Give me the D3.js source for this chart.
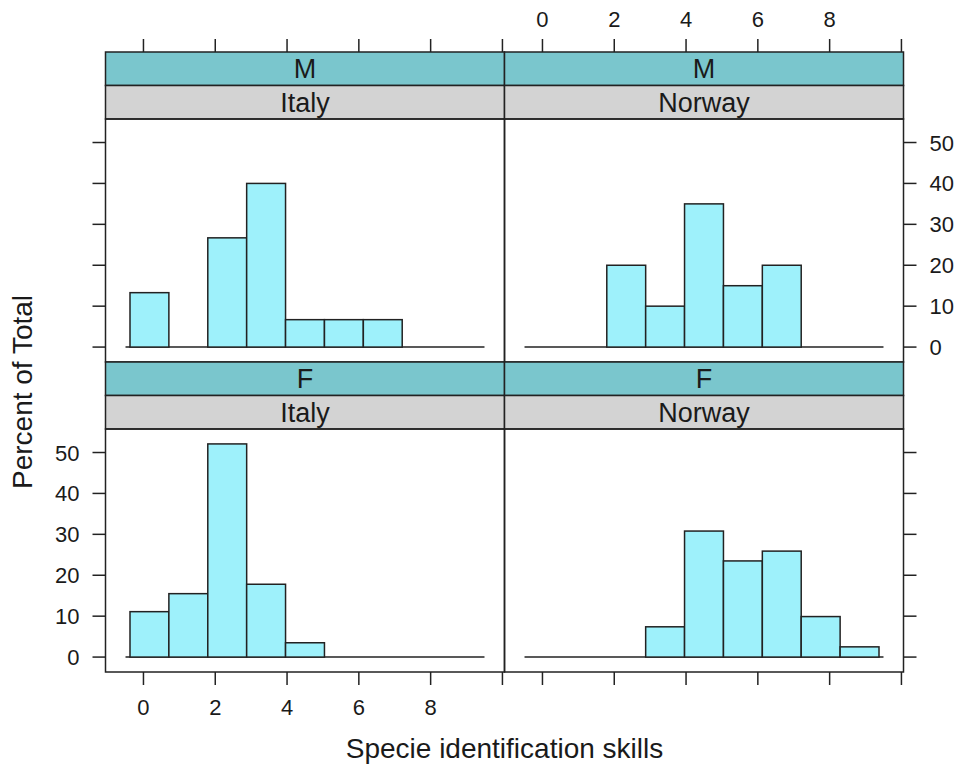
<!doctype html>
<html>
<head>
  <meta charset="utf-8">
  <title>Specie identification skills</title>
  <style>
    body { margin: 0; background: #fff; }
    svg text { font-family: "Liberation Sans", Arial, sans-serif; fill: #1a1a1a; }
  </style>
</head>
<body>
  <script src="https://d3js.org/d3.v7.min.js"></script>
  <script>
    // histogram bin edges (shared by all panels)
    var breaks = [-0.375, 0.708, 1.792, 2.875, 3.958, 5.042, 6.125, 7.208, 8.292, 9.375];
    var baseRange = [-0.5, 9.5];

    // percent of total per bin
    var pctMItaly = [13.3, 0, 26.7, 40, 6.7, 6.7, 6.7, 0, 0];
    var pctMNorway = [0, 0, 20, 10, 35, 15, 20, 0, 0];
    var pctFItaly = [11.1, 15.5, 52.1, 17.8, 3.5, 0, 0, 0, 0];
    var pctFNorway = [0, 0, 0, 7.4, 30.8, 23.5, 25.9, 9.9, 2.5];

    var sexes = ['M', 'F'];
    var countries = ['Italy', 'Norway'];
    var xTicks = [0, 2, 4, 6, 8, 10];
    var xLabels = [0, 2, 4, 6, 8];
    var yTicks = [0, 10, 20, 30, 40, 50];
    var yLabels = [0, 10, 20, 30, 40, 50];

    var panels = [
      { row: 0, col: 0, sex: sexes[0], country: countries[0], values: pctMItaly },
      { row: 0, col: 1, sex: sexes[0], country: countries[1], values: pctMNorway },
      { row: 1, col: 0, sex: sexes[1], country: countries[0], values: pctFItaly },
      { row: 1, col: 1, sex: sexes[1], country: countries[1], values: pctFNorway }
    ];

    var W = 957, H = 766;
    var padLeft = 105.5, padTop = 52;
    var panelW = 399, stripH = 33.5, plotH = 243;
    var rowH = stripH * 2 + plotH;
    var tickLen = 13;
    var lineCol = '#222';

    var svg = d3.select('body').append('svg')
      .attr('width', W).attr('height', H);

    // lattice-style padded limits
    var bx = d3.extent(breaks);
    var padX = (bx[1] - bx[0]) * 0.07;
    var yMax = d3.max(panels, function(p) { return d3.max(p.values); });
    var padY = yMax * 0.07;

    var x = d3.scaleLinear().domain([bx[0] - padX, bx[1] + padX]).range([0, panelW]);
    var y = d3.scaleLinear().domain([-padY, yMax + padY]).range([plotH, 0]);

    panels.forEach(function(p) {
      var gx = padLeft + p.col * panelW;
      var gy = padTop + p.row * rowH;
      var g = svg.append('g').attr('transform', 'translate(' + gx + ',' + gy + ')');

      // strips
      g.append('rect').attr('x', 0).attr('y', 0).attr('width', panelW).attr('height', stripH)
        .attr('fill', '#7ac6cd').attr('stroke', lineCol).attr('stroke-width', 1.5);
      g.append('rect').attr('x', 0).attr('y', stripH).attr('width', panelW).attr('height', stripH)
        .attr('fill', '#d3d3d3').attr('stroke', lineCol).attr('stroke-width', 1.5);
      g.append('text').attr('x', panelW / 2).attr('y', stripH / 2 + 9.5)
        .attr('text-anchor', 'middle').style('font-size', '27px').text(p.sex);
      g.append('text').attr('x', panelW / 2).attr('y', stripH * 1.5 + 9.5)
        .attr('text-anchor', 'middle').style('font-size', '27px').text(p.country);

      var plot = g.append('g').attr('transform', 'translate(0,' + (stripH * 2) + ')');

      // baseline
      plot.append('line')
        .attr('x1', x(baseRange[0])).attr('x2', x(baseRange[1]))
        .attr('y1', y(0)).attr('y2', y(0))
        .attr('stroke', lineCol).attr('stroke-width', 1.5);

      // bars
      var bins = p.values.map(function(v, i) {
        return { x0: breaks[i], x1: breaks[i + 1], v: v };
      }).filter(function(d) { return d.v > 0; });

      plot.selectAll('rect.bar').data(bins).enter().append('rect')
        .attr('class', 'bar')
        .attr('x', function(d) { return x(d.x0); })
        .attr('width', function(d) { return x(d.x1) - x(d.x0); })
        .attr('y', function(d) { return y(d.v); })
        .attr('height', function(d) { return y(0) - y(d.v); })
        .attr('fill', '#9ef1fb').attr('stroke', lineCol).attr('stroke-width', 1.5);

      // panel box
      plot.append('rect').attr('x', 0).attr('y', 0).attr('width', panelW).attr('height', plotH)
        .attr('fill', 'none').attr('stroke', lineCol).attr('stroke-width', 1.5);

      // x ticks: top on first row, bottom on last row
      if (p.row === 0) {
        g.selectAll('line.xt').data(xTicks).enter().append('line')
          .attr('x1', function(d) { return x(d); }).attr('x2', function(d) { return x(d); })
          .attr('y1', 0).attr('y2', -tickLen)
          .attr('stroke', lineCol).attr('stroke-width', 1.5);
        if (p.col === 1) {
          g.selectAll('text.xl').data(xLabels).enter().append('text')
            .attr('x', function(d) { return x(d); }).attr('y', -25)
            .attr('text-anchor', 'middle').style('font-size', '22px')
            .text(function(d) { return d; });
        }
      } else {
        plot.selectAll('line.xt').data(xTicks).enter().append('line')
          .attr('x1', function(d) { return x(d); }).attr('x2', function(d) { return x(d); })
          .attr('y1', plotH).attr('y2', plotH + tickLen)
          .attr('stroke', lineCol).attr('stroke-width', 1.5);
        if (p.col === 0) {
          plot.selectAll('text.xl').data(xLabels).enter().append('text')
            .attr('x', function(d) { return x(d); }).attr('y', plotH + 43)
            .attr('text-anchor', 'middle').style('font-size', '22px')
            .text(function(d) { return d; });
        }
      }

      // y ticks: left on first column, right on last column
      if (p.col === 0) {
        plot.selectAll('line.yt').data(yTicks).enter().append('line')
          .attr('x1', 0).attr('x2', -tickLen)
          .attr('y1', function(d) { return y(d); }).attr('y2', function(d) { return y(d); })
          .attr('stroke', lineCol).attr('stroke-width', 1.5);
        if (p.row === 1) {
          plot.selectAll('text.yl').data(yLabels).enter().append('text')
            .attr('x', -26).attr('y', function(d) { return y(d) + 8; })
            .attr('text-anchor', 'end').style('font-size', '22px')
            .text(function(d) { return d; });
        }
      } else {
        plot.selectAll('line.yt').data(yTicks).enter().append('line')
          .attr('x1', panelW).attr('x2', panelW + tickLen)
          .attr('y1', function(d) { return y(d); }).attr('y2', function(d) { return y(d); })
          .attr('stroke', lineCol).attr('stroke-width', 1.5);
        if (p.row === 0) {
          plot.selectAll('text.yl').data(yLabels).enter().append('text')
            .attr('x', panelW + 26).attr('y', function(d) { return y(d) + 8; })
            .attr('text-anchor', 'start').style('font-size', '22px')
            .text(function(d) { return d; });
        }
      }
    });

    // axis titles
    svg.append('text')
      .attr('x', padLeft + panelW).attr('y', 758)
      .attr('text-anchor', 'middle').style('font-size', '28px')
      .text('Specie identification skills');

    svg.append('text')
      .attr('transform', 'translate(32,' + 392 + ') rotate(-90)')
      .attr('text-anchor', 'middle').style('font-size', '28px')
      .text('Percent of Total');
  </script>
</body>
</html>
